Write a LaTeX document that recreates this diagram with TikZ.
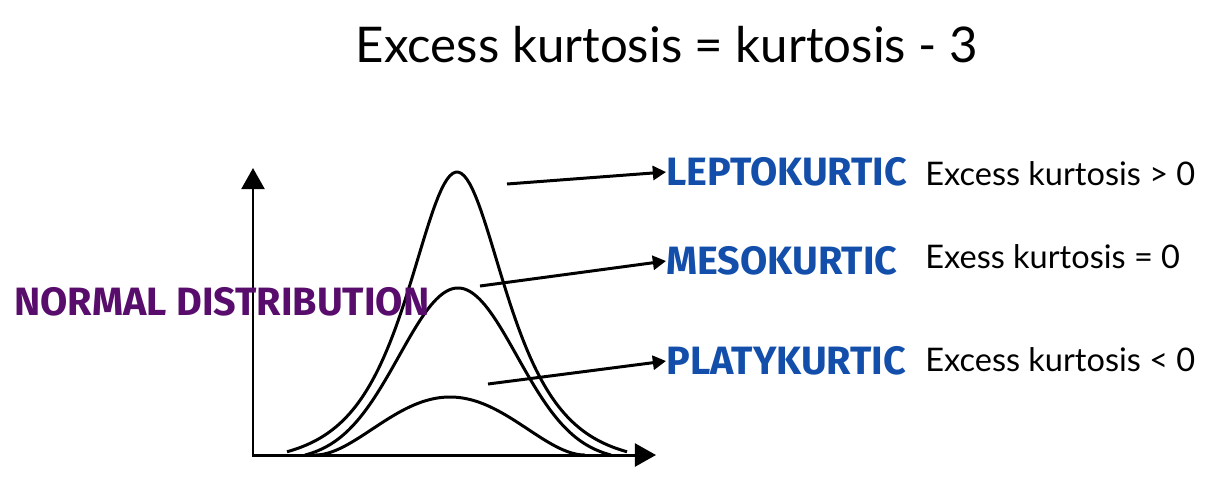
\documentclass[tikz,border=0pt]{standalone}
\usepackage{fontspec}
\setmainfont{Lato}
\newfontfamily\handfont{Fira Sans}
\usetikzlibrary{arrows.meta, positioning}
\definecolor{normalpurple}{RGB}{88, 12, 108}
\definecolor{kurtblue}{RGB}{18, 78, 170}

\begin{document}
\begin{tikzpicture}[x=0.02cm, y=-0.02cm,
    curve/.style={line width=1.7pt, line join=round},
    axis/.style={line width=1.7pt, {Triangle[length=12pt, width=13pt]}-{Triangle[length=12pt, width=13pt]}},
    pointer/.style={line width=1.7pt, -{Triangle[length=7.5pt, width=8pt]}},
    kind/.style={kurtblue, anchor=west, inner sep=0pt, font=\handfont\bfseries\fontsize{22.5}{27}\selectfont},
    rule/.style={anchor=west, inner sep=0pt, font=\fontsize{18.5}{22}\selectfont}]
    \useasboundingbox (0,0) rectangle (1212,495);

    % Title
    \node[font=\fontsize{28}{33}\selectfont] (title) at (667,45) {Excess kurtosis = kurtosis - 3};

    % Axes
    \coordinate (origin) at (253,455);
    \coordinate (ytip) at (253,168);
    \coordinate (xtip) at (656,455);
    \draw[axis] (ytip) -- (origin) -- (xtip);

    % The three curves
    \draw[curve] plot[domain=287:627, samples=120] (\x, {464 - 292/cosh((\x-457)/44)});
    \draw[curve] plot[domain=305:611, samples=120] (\x, {461 - 173*exp(-((\x-458)/59)^2/2)});
    \draw[curve] plot[domain=315:585, samples=120] (\x, {455 - 58*(1-((\x-450)/135)^2)^2});

    % Labels
    \node[normalpurple, anchor=west, inner sep=0pt, font=\handfont\bfseries\fontsize{22.5}{27}\selectfont] (normal) at (14,302) {NORMAL DISTRIBUTION};
    \node[kind] (lepto) at (666,172) {LEPTOKURTIC};
    \node[kind] (meso) at (666,261) {MESOKURTIC};
    \node[kind] (platy) at (666,361) {PLATYKURTIC};

    \node[rule] (leptorule) at (925,174) {Excess kurtosis > 0};
    \node[rule] (mesorule) at (925,257) {Exess kurtosis = 0};
    \node[rule] (platyrule) at (925,360) {Excess kurtosis < 0};

    % Pointers
    \coordinate (leptofrom) at (507,184);
    \coordinate (mesofrom) at (480,286);
    \coordinate (platyfrom) at (488,384);
    \draw[pointer] (leptofrom) -- (lepto.west);
    \draw[pointer] (mesofrom) -- (meso.west);
    \draw[pointer] (platyfrom) -- (platy.west);
\end{tikzpicture}
\end{document}
